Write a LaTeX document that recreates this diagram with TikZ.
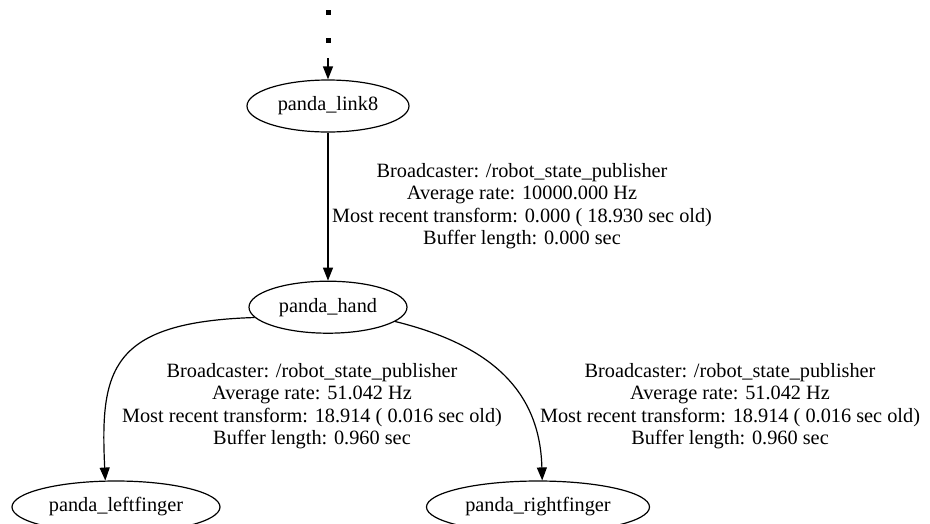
\documentclass[tikz,border=0pt]{standalone}
\usepackage{fontspec}
\setmainfont{Liberation Serif}
\usetikzlibrary{arrows.meta,positioning,shapes.geometric}

\begin{document}
\begin{tikzpicture}[x=1pt,y=-1pt,node distance=148pt, every node/.style={font=\fontsize{20.3}{22.4}\selectfont}, frame/.style={draw,ellipse,line width=1.2pt,inner sep=0pt,minimum height=52pt}, note/.style={align=center,inner sep=0pt}, edge/.style={line width=1.2pt,-{Triangle[length=13pt,width=10pt]}}]
\useasboundingbox (0,0) rectangle (930,523);
\node[frame,minimum width=162pt] (link8) at (328,106) {panda\_link8};
\node[frame,minimum width=158pt,below=of link8] (hand) {panda\_hand};
\node[frame,minimum width=208pt] (left) at (116,507) {panda\_leftfinger};
\node[frame,minimum width=223pt] (right) at (538,507) {panda\_rightfinger};
\node[note] (l8hand) at (522,206) {Broadcaster: /robot\_state\_publisher\\Average rate: 10000.000 Hz\\Most recent transform: 0.000 ( 18.930 sec old)\\Buffer length: 0.000 sec};
\node[note] (handleft) at (312,406) {Broadcaster: /robot\_state\_publisher\\Average rate: 51.042 Hz\\Most recent transform: 18.914 ( 0.016 sec old)\\Buffer length: 0.960 sec};
\node[note] (handright) at (730,406) {Broadcaster: /robot\_state\_publisher\\Average rate: 51.042 Hz\\Most recent transform: 18.914 ( 0.016 sec old)\\Buffer length: 0.960 sec};
\coordinate (dots) at (328,10);
\coordinate (stub) at (328,58);
\draw[line width=5pt,dash pattern=on 5pt off 23pt] (dots) -- (stub);
\draw[edge] (stub) -- (link8);
\draw[edge] (link8) -- (hand);
\draw[edge] (hand.188) .. controls (110,322) and (100,370) .. (left.112);
\draw[edge] (hand.348) .. controls (490,345) and (540,390) .. (right.81);
\end{tikzpicture}
\end{document}
